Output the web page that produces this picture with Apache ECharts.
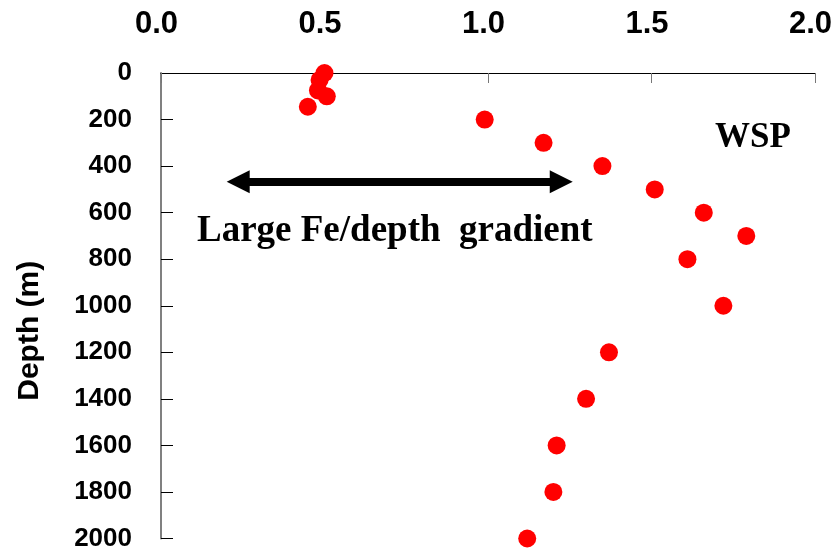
<!DOCTYPE html>
<html>
<head>
<meta charset="utf-8">
<script src="https://cdn.jsdelivr.net/npm/echarts@6/dist/echarts.min.js"></script>
<style>
html,body{margin:0;padding:0;background:#fff;}
#chart{width:835px;height:560px;}
</style>
</head>
<body>
<div id="chart"></div>
<script>
// Fe concentration (x) vs depth (m)
const feValues = [0.50, 0.485, 0.48, 0.507, 0.449, 0.99, 1.17, 1.35, 1.51, 1.66, 1.79, 1.61, 1.72, 1.37, 1.30, 1.21, 1.20, 1.12];
const depths   = [0, 30, 75, 100, 145, 200, 300, 400, 500, 600, 700, 800, 1000, 1200, 1400, 1600, 1800, 2000];
const xTicks = [0.0, 0.5, 1.0, 1.5, 2.0];
const yTicks = [0, 200, 400, 600, 800, 1000, 1200, 1400, 1600, 1800, 2000];
const stationLabel = 'WSP';
const annotationLabel = 'Large Fe/depth  gradient';
const axisTitle = 'Depth (m)';

const points = feValues.map((v, i) => [v, depths[i]]);

const chart = echarts.init(document.getElementById('chart'), null, {renderer: 'canvas'});
chart.setOption({
  animation: false,
  backgroundColor: '#ffffff',
  grid: {left: 161, right: 20, top: 73, bottom: 21.5, containLabel: false},
  xAxis: {
    type: 'value',
    position: 'top',
    min: xTicks[0],
    max: xTicks[xTicks.length - 1],
    interval: 0.5,
    axisLine: {show: true, lineStyle: {color: '#000', width: 1}},
    axisTick: {show: true, inside: true, length: 10, lineStyle: {color: '#777', width: 1}},
    axisLabel: {
      margin: 33, color: '#000', fontSize: 31, fontWeight: 'bold', fontFamily: 'Liberation Sans',
      padding: [0, 9, 0, 0],
      formatter: v => v.toFixed(1)
    },
    splitLine: {show: false}
  },
  yAxis: {
    type: 'value',
    inverse: true,
    min: yTicks[0],
    max: yTicks[yTicks.length - 1],
    interval: 200,
    name: axisTitle,
    nameLocation: 'middle',
    nameRotate: 90,
    nameGap: 116,
    nameTextStyle: {color: '#000', fontSize: 30, fontWeight: 'bold', fontFamily: 'Liberation Sans', padding: [0, 50, 0, 0]},
    axisLine: {show: true, lineStyle: {color: '#808080', width: 2}},
    axisTick: {show: true, inside: true, length: 12, lineStyle: {color: '#000', width: 1}},
    axisLabel: {
      margin: 29, color: '#000', fontSize: 26, fontWeight: 'bold', fontFamily: 'Liberation Sans',
      formatter: v => String(v)
    },
    splitLine: {show: false}
  },
  series: [{
    type: 'scatter',
    data: points,
    symbol: 'circle',
    symbolSize: 18,
    itemStyle: {color: '#ff0000', opacity: 1},
    markLine: {
      silent: true,
      symbol: ['triangle', 'triangle'],
      symbolSize: [23, 23],
      label: {show: false},
      lineStyle: {color: '#000', width: 8, type: 'solid'},
      data: [[{coord: [0.236, 467]}, {coord: [1.224, 467]}]]
    }
  }],
  graphic: [
    {
      type: 'text', x: 197, y: 231,
      style: {text: annotationLabel, fill: '#000', font: 'bold 37px "Liberation Serif"', textAlign: 'left', textVerticalAlign: 'middle'}
    },
    {
      type: 'text', x: 715, y: 138,
      style: {text: stationLabel, fill: '#000', font: 'bold 35px "Liberation Serif"', textAlign: 'left', textVerticalAlign: 'middle'}
    }
  ]
});
</script>
</body>
</html>
